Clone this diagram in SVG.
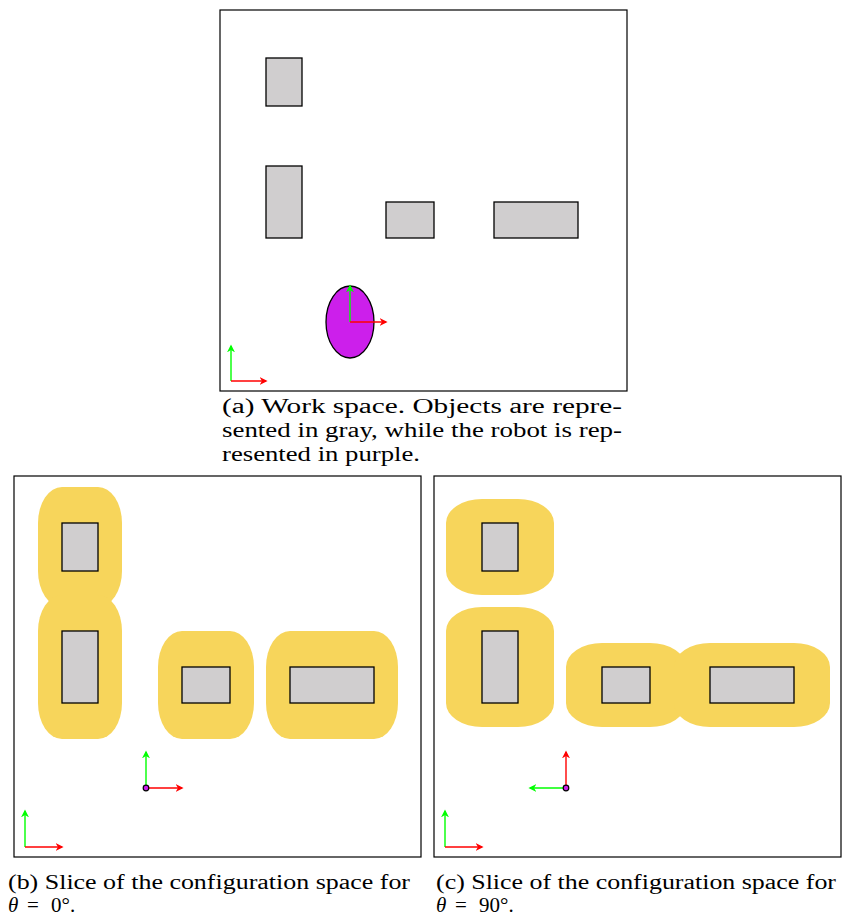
<svg xmlns="http://www.w3.org/2000/svg" width="844" height="917" viewBox="0 0 844 917">
<style>
.frame{fill:#fff;stroke:#000;stroke-width:1.2}
.obj{fill:#d0cecf;stroke:#000;stroke-width:1.3}
.cs{fill:#f7d55b;stroke:none}
.ax-g{stroke:#00ff00;stroke-width:1.4;fill:none;marker-end:url(#ag)}
.ax-r{stroke:#ff0000;stroke-width:1.4;fill:none;marker-end:url(#ar)}
.cap{font-family:"Liberation Serif","DejaVu Serif",serif;font-size:20px;fill:#000}
</style>
<defs>
<marker id="ag" viewBox="0 0 10 10" refX="8" refY="5" markerWidth="8" markerHeight="8" markerUnits="userSpaceOnUse" orient="auto"><path d="M0,0 L10,5 L0,10 L3,5 Z" fill="#00ff00"/></marker>
<marker id="ar" viewBox="0 0 10 10" refX="8" refY="5" markerWidth="8" markerHeight="8" markerUnits="userSpaceOnUse" orient="auto"><path d="M0,0 L10,5 L0,10 L3,5 Z" fill="#ff0000"/></marker>
</defs>

<!-- Panel (a) -->
<g id="panel-a">
<rect class="frame" x="220" y="10" width="407" height="381"/>
<rect id="a-obj1" class="obj" x="266" y="58" width="36" height="48"/>
<rect id="a-obj2" class="obj" x="266" y="166" width="36" height="72"/>
<rect id="a-obj3" class="obj" x="386" y="202" width="48" height="36"/>
<rect id="a-obj4" class="obj" x="494" y="202" width="84" height="36"/>
<ellipse id="a-robot" cx="350" cy="322" rx="24" ry="36" fill="#cc1feb" stroke="#000" stroke-width="1.3"/>
</g>
<g id="connectors-a">
<line class="ax-g" x1="350" y1="322" x2="350" y2="286"/>
<line class="ax-r" x1="350" y1="322" x2="386" y2="322"/>
<line class="ax-g" x1="231" y1="381" x2="231" y2="346"/>
<line class="ax-r" x1="231" y1="381" x2="266" y2="381"/>
</g>
<g id="caption-a" class="cap">
<text x="222" y="413" textLength="400" lengthAdjust="spacingAndGlyphs">(a) Work space. Objects are repre-</text>
<text x="222" y="437" textLength="400" lengthAdjust="spacingAndGlyphs">sented in gray, while the robot is rep-</text>
<text x="222" y="461" textLength="198" lengthAdjust="spacingAndGlyphs">resented in purple.</text>
</g>

<!-- Panel (b) -->
<g id="panel-b">
<rect class="frame" x="14" y="476" width="407" height="381"/>
<path id="b-cs1" class="cs" d="M62,487 H98 A24,36 0 0 1 122,523 V571 A24,36 0 0 1 98,607 H62 A24,36 0 0 1 38,571 V523 A24,36 0 0 1 62,487 Z"/>
<path id="b-cs2" class="cs" d="M62,595 H98 A24,36 0 0 1 122,631 V703 A24,36 0 0 1 98,739 H62 A24,36 0 0 1 38,703 V631 A24,36 0 0 1 62,595 Z"/>
<path id="b-cs3" class="cs" d="M182,631 H230 A24,36 0 0 1 254,667 V703 A24,36 0 0 1 230,739 H182 A24,36 0 0 1 158,703 V667 A24,36 0 0 1 182,631 Z"/>
<path id="b-cs4" class="cs" d="M290,631 H374 A24,36 0 0 1 398,667 V703 A24,36 0 0 1 374,739 H290 A24,36 0 0 1 266,703 V667 A24,36 0 0 1 290,631 Z"/>
<rect id="b-obj1" class="obj" x="62" y="523" width="36" height="48"/>
<rect id="b-obj2" class="obj" x="62" y="631" width="36" height="72"/>
<rect id="b-obj3" class="obj" x="182" y="667" width="48" height="36"/>
<rect id="b-obj4" class="obj" x="290" y="667" width="84" height="36"/>
</g>
<g id="connectors-b">
<line class="ax-g" x1="146" y1="788" x2="146" y2="752"/>
<line class="ax-r" x1="146" y1="788" x2="182" y2="788"/>
<line class="ax-g" x1="25" y1="847" x2="25" y2="811"/>
<line class="ax-r" x1="25" y1="847" x2="62" y2="847"/>
</g>
<circle id="b-robot" cx="146" cy="788" r="2.8" fill="#cc1feb" stroke="#000" stroke-width="1.2"/>
<g id="caption-b" class="cap">
<text x="8" y="889" textLength="402" lengthAdjust="spacingAndGlyphs">(b) Slice of the configuration space for</text>
<text y="912" font-size="21"><tspan x="8" font-style="italic">θ</tspan><tspan x="27">=</tspan><tspan x="51">0°.</tspan></text>
</g>

<!-- Panel (c) -->
<g id="panel-c">
<rect class="frame" x="434" y="476" width="407" height="381"/>
<path id="c-cs1" class="cs" d="M482,499 H518 A36,24 0 0 1 554,523 V571 A36,24 0 0 1 518,595 H482 A36,24 0 0 1 446,571 V523 A36,24 0 0 1 482,499 Z"/>
<path id="c-cs2" class="cs" d="M482,607 H518 A36,24 0 0 1 554,631 V703 A36,24 0 0 1 518,727 H482 A36,24 0 0 1 446,703 V631 A36,24 0 0 1 482,607 Z"/>
<path id="c-cs3" class="cs" d="M602,643 H650 A36,24 0 0 1 686,667 V703 A36,24 0 0 1 650,727 H602 A36,24 0 0 1 566,703 V667 A36,24 0 0 1 602,643 Z"/>
<path id="c-cs4" class="cs" d="M710,643 H794 A36,24 0 0 1 830,667 V703 A36,24 0 0 1 794,727 H710 A36,24 0 0 1 674,703 V667 A36,24 0 0 1 710,643 Z"/>
<rect id="c-obj1" class="obj" x="482" y="523" width="36" height="48"/>
<rect id="c-obj2" class="obj" x="482" y="631" width="36" height="72"/>
<rect id="c-obj3" class="obj" x="602" y="667" width="48" height="36"/>
<rect id="c-obj4" class="obj" x="710" y="667" width="84" height="36"/>
</g>
<g id="connectors-c">
<line class="ax-r" x1="566" y1="788" x2="566" y2="752"/>
<line class="ax-g" x1="566" y1="788" x2="530" y2="788"/>
<line class="ax-g" x1="445" y1="847" x2="445" y2="811"/>
<line class="ax-r" x1="445" y1="847" x2="482" y2="847"/>
</g>
<circle id="c-robot" cx="566" cy="788" r="2.8" fill="#cc1feb" stroke="#000" stroke-width="1.2"/>
<g id="caption-c" class="cap">
<text x="436" y="889" textLength="400" lengthAdjust="spacingAndGlyphs">(c) Slice of the configuration space for</text>
<text y="912" font-size="21"><tspan x="436" font-style="italic">θ</tspan><tspan x="455">=</tspan><tspan x="479">90°.</tspan></text>
</g>
</svg>
